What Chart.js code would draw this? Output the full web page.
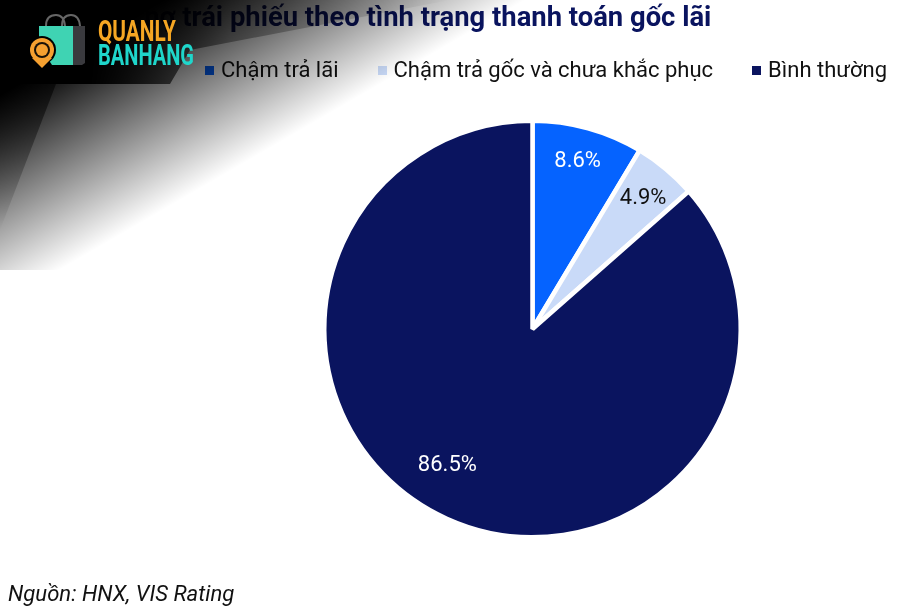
<!DOCTYPE html>
<html lang="vi">
<head>
<meta charset="utf-8">
<title>Dư nợ trái phiếu</title>
<script src="https://cdn.jsdelivr.net/npm/chart.js@4/dist/chart.umd.min.js"></script>
<style>
  html, body { margin: 0; padding: 0; background: #fff; }
  #wrap { position: relative; width: 900px; height: 612px; overflow: hidden; font-family: Roboto, sans-serif; }
  #chart { position: absolute; left: 0; top: 0; }
  #title { position: absolute; left: 103px; top: 0; font-size: 27.4px; line-height: 34px; font-weight: 700; color: #0a145f; white-space: nowrap; }
  #legend { position: absolute; right: 13px; top: 55px; display: flex; gap: 39px; font-size: 22px; line-height: 30px; color: #111; white-space: nowrap; }
  #legend span.item { display: flex; align-items: center; }
  #legend i { display: block; width: 9px; height: 9px; margin-right: 7px; }
  #source { position: absolute; left: 8px; top: 579px; font-size: 22.1px; line-height: 28px; font-style: italic; color: #111; white-space: nowrap; }
  #mark { position: absolute; left: 0; top: 0; pointer-events: none; }
</style>
</head>
<body>
<div id="wrap">
  <canvas id="chart" width="900" height="612"></canvas>
  <div id="title">Dư nợ trái phiếu theo tình trạng thanh toán gốc lãi</div>
  <div id="legend"></div>
  <div id="source">Nguồn: HNX, VIS Rating</div>
  <svg id="mark" width="900" height="612" xmlns="http://www.w3.org/2000/svg">
    <defs>
      <linearGradient id="fade" gradientUnits="userSpaceOnUse" x1="60" y1="60" x2="151" y2="217">
        <stop offset="0" stop-color="#000" stop-opacity="1"/>
        <stop offset="1" stop-color="#000" stop-opacity="0"/>
      </linearGradient>
      <linearGradient id="band" gradientUnits="userSpaceOnUse" x1="90" y1="0" x2="450" y2="0">
        <stop offset="0" stop-color="#000" stop-opacity="1"/>
        <stop offset=".39" stop-color="#000" stop-opacity=".35"/>
        <stop offset="1" stop-color="#000" stop-opacity="0"/>
      </linearGradient>
      <linearGradient id="wedge" gradientUnits="userSpaceOnUse" x1="0" y1="85" x2="0" y2="230">
        <stop offset="0" stop-color="#000" stop-opacity=".6"/>
        <stop offset="1" stop-color="#000" stop-opacity="0"/>
      </linearGradient>
    </defs>
    <rect x="0" y="0" width="560" height="270" fill="url(#fade)"/>
    <polygon points="0,0 450,0 190,50 170,84 0,84" fill="url(#band)"/>
    <polygon points="0,84 56,84 0,230" fill="url(#wedge)"/>
    <!-- logo -->
    <path d="M46 26 Q46 15 56 15 Q64 15 65 26 M62 26 Q62 15 71 15 Q79 15 80 26" fill="none" stroke="#666" stroke-width="2"/>
    <polygon points="39,26 73,26 73,65 52,65 39,45" fill="#3fd3b3"/>
    <polygon points="73,26 85,26 85,63 82,65 73,65" fill="#3a3a3e"/>
    <circle cx="42" cy="50" r="14" fill="#000"/>
    <circle cx="42" cy="50" r="12" fill="#f5a030"/>
    <polygon points="32,58 52,58 42,68" fill="#f5a030"/>
    <circle cx="42" cy="50" r="8" fill="#1a1208"/>
    <circle cx="42" cy="50" r="6" fill="#f5a030"/>
    <text x="98" y="41" font-family="'Liberation Sans Narrow', Roboto" font-weight="700" font-size="29" fill="#f5a623" textLength="78" lengthAdjust="spacingAndGlyphs">QUANLY</text>
    <text x="98" y="65" font-family="'Liberation Sans Narrow', Roboto" font-weight="700" font-size="29" fill="#1fd6cb" textLength="96" lengthAdjust="spacingAndGlyphs">BANHANG</text>
  </svg>
</div>
<script>
const categories = ['Chậm trả lãi', 'Chậm trả gốc và chưa khắc phục', 'Bình thường'];
const shares = [8.6, 4.9, 86.5];
const sliceColors = ['#0563ff', '#c9daf8', '#0a145f'];
const labelColors = ['#ffffff', '#111111', '#ffffff'];

// chú giải HTML: dòng chú giải rộng hơn vùng vẽ của hình tròn
const legendBox = document.getElementById('legend');
categories.forEach((name, i) => {
  const item = document.createElement('span');
  item.className = 'item';
  const box = document.createElement('i');
  box.style.background = sliceColors[i];
  item.appendChild(box);
  item.appendChild(document.createTextNode(name));
  legendBox.appendChild(item);
});

// nhãn % đặt gần mép ngoài của lát
const sliceLabels = {
  id: 'sliceLabels',
  afterDatasetsDraw(chart) {
    const { ctx } = chart;
    const nudge = [[-1, -1], [0, 2], [-14, -21]];
    ctx.save();
    ctx.font = '22px Roboto';
    ctx.textAlign = 'center';
    ctx.textBaseline = 'middle';
    chart.getDatasetMeta(0).data.forEach((arc, i) => {
      const mid = (arc.startAngle + arc.endAngle) / 2;
      const r = arc.outerRadius * 0.83;
      ctx.fillStyle = labelColors[i];
      ctx.fillText(shares[i].toFixed(1) + '%',
        arc.x + Math.cos(mid) * r + nudge[i][0],
        arc.y + Math.sin(mid) * r + nudge[i][1]);
    });
    ctx.restore();
  }
};

new Chart(document.getElementById('chart'), {
  type: 'pie',
  data: {
    labels: categories,
    datasets: [{
      data: shares,
      backgroundColor: sliceColors,
      borderColor: '#ffffff',
      borderWidth: 4.5,
    }]
  },
  options: {
    responsive: false,
    animation: false,
    layout: { padding: { left: 322, right: 157, top: 118, bottom: 72 } },
    plugins: {
      legend: { display: false },
      tooltip: { enabled: false },
    },
  },
  plugins: [sliceLabels],
});
</script>
</body>
</html>
